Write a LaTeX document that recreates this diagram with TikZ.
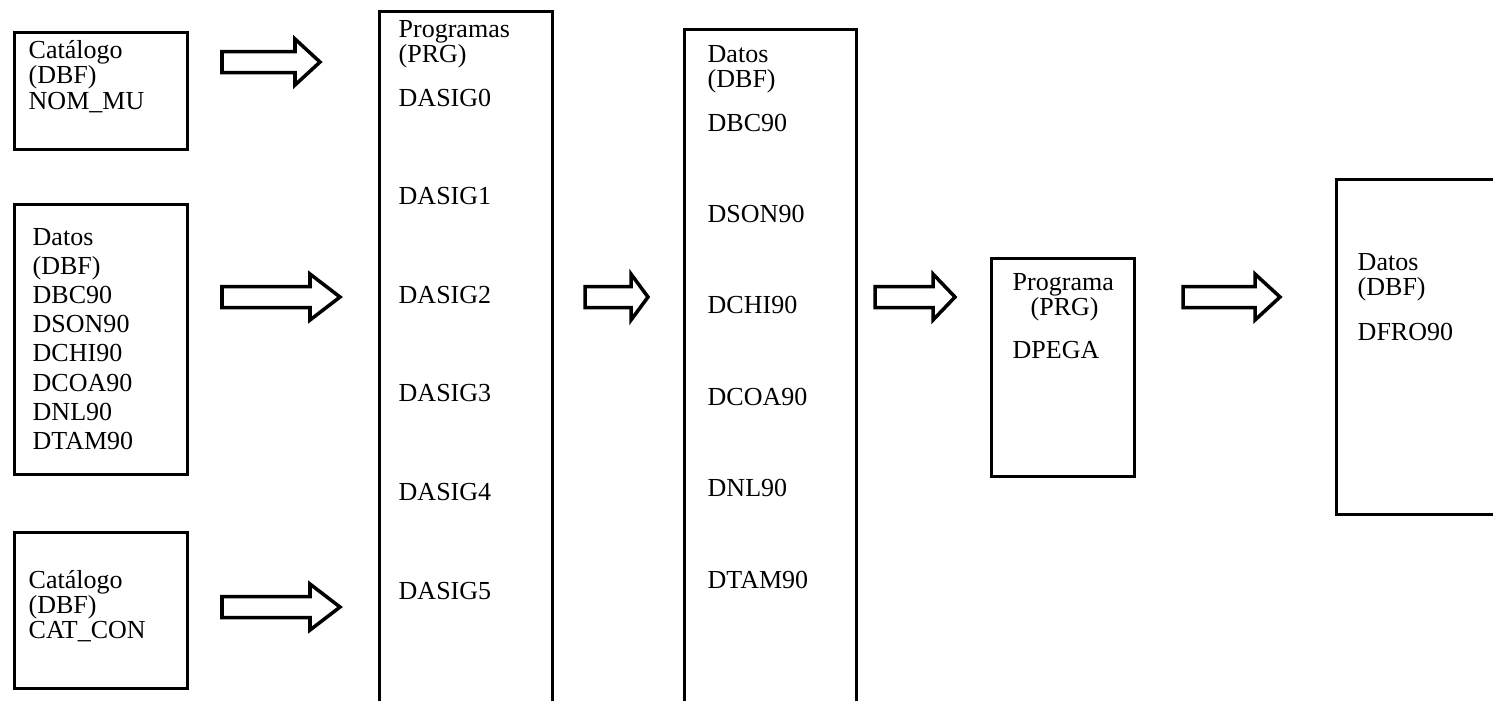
\documentclass[tikz,border=0pt]{standalone}
\usepackage{fontspec}
\setmainfont{Liberation Serif}
\usetikzlibrary{positioning, calc}
\tikzset{
  box/.style={draw, line width=0.8pt, anchor=north west, inner sep=0pt},
  lbl/.style={anchor=base west, inner sep=0pt, font=\fontsize{7.4}{7.8}\selectfont},
  blk/.style={draw, line width=1pt, line join=miter, fill=white}
}
% outlined block arrow: start, length, head length
\newcommand{\blockarrow}[3]{%
  \draw[blk] #1 ++(0,0.105) -- ++({#2-#3},0) -- ++(0,0.125) -- ++(#3,-0.23)
    -- ++(-#3,-0.23) -- ++(0,0.125) -- ++({-(#2-#3)},0) -- cycle;}

\begin{document}
\begin{tikzpicture}
\useasboundingbox (0,0) rectangle (14.93,-7.00);
\clip (0,0) rectangle (14.93,-7.00);

% boxes
\node[box, minimum width=1.73cm, minimum height=1.17cm] (cat1) at (0.13,-0.31) {};
\node[box, minimum width=1.73cm, minimum height=2.70cm] (datA) at (0.13,-2.03) {};
\node[box, minimum width=1.73cm, minimum height=1.56cm] (cat2) at (0.13,-5.31) {};
\node[box, minimum width=1.73cm, minimum height=7.30cm] (prog) at (3.78,-0.10) {};
\node[box, minimum width=1.72cm, minimum height=7.10cm] (datB) at (6.83,-0.28) {};
\node[box, minimum width=1.43cm, minimum height=2.18cm] (prog2) at (9.90,-2.57) {};
\node[box, minimum width=1.80cm, minimum height=3.35cm] (datC) at (13.35,-1.78) {};

% texts
\foreach \t [count=\i] in {Catálogo,(DBF),NOM\_MU}
  \node[lbl] (tc1\i) at (0.28,{-0.58-0.255*(\i-1)}) {\t};
\foreach \t [count=\i] in {Datos,(DBF),DBC90,DSON90,DCHI90,DCOA90,DNL90,DTAM90}
  \node[lbl] (tdA\i) at (0.32,{-2.45-0.292*(\i-1)}) {\t};
\foreach \t [count=\i] in {Catálogo,(DBF),CAT\_CON}
  \node[lbl] (tc2\i) at (0.28,{-5.88-0.25*(\i-1)}) {\t};

\node[lbl] (tp1) at (3.98,-0.37) {Programas};
\node[lbl] (tp2) at (3.98,-0.62) {(PRG)};
\foreach \i in {0,...,5}
  \node[lbl] (tpd\i) at (3.98,{-1.06-0.986*\i}) {DASIG\i};

\node[lbl] (tdB1) at (7.07,-0.62) {Datos};
\node[lbl] (tdB2) at (7.07,-0.87) {(DBF)};
\foreach \t [count=\i] in {DBC90,DSON90,DCHI90,DCOA90,DNL90,DTAM90}
  \node[lbl] (tdB\i x) at (7.07,{-1.31-0.914*(\i-1)}) {\t};

\node[lbl] (tq1) at (10.12,-2.90) {Programa};
\node[lbl] (tq2) at (10.30,-3.15) {(PRG)};
\node[lbl] (tq3) at (10.12,-3.58) {DPEGA};

\node[lbl] (tdC1) at (13.57,-2.70) {Datos};
\node[lbl] (tdC2) at (13.57,-2.95) {(DBF)};
\node[lbl] (tdC3) at (13.57,-3.40) {DFRO90};

% block arrows
\blockarrow{(2.22,-0.62)}{0.98}{0.25}
\blockarrow{(2.22,-2.97)}{1.18}{0.30}
\blockarrow{(2.22,-6.07)}{1.18}{0.30}
\blockarrow{(5.85,-2.97)}{0.63}{0.17}
\blockarrow{(8.75,-2.97)}{0.80}{0.22}
\blockarrow{(11.83,-2.97)}{0.97}{0.25}
\end{tikzpicture}
\end{document}
